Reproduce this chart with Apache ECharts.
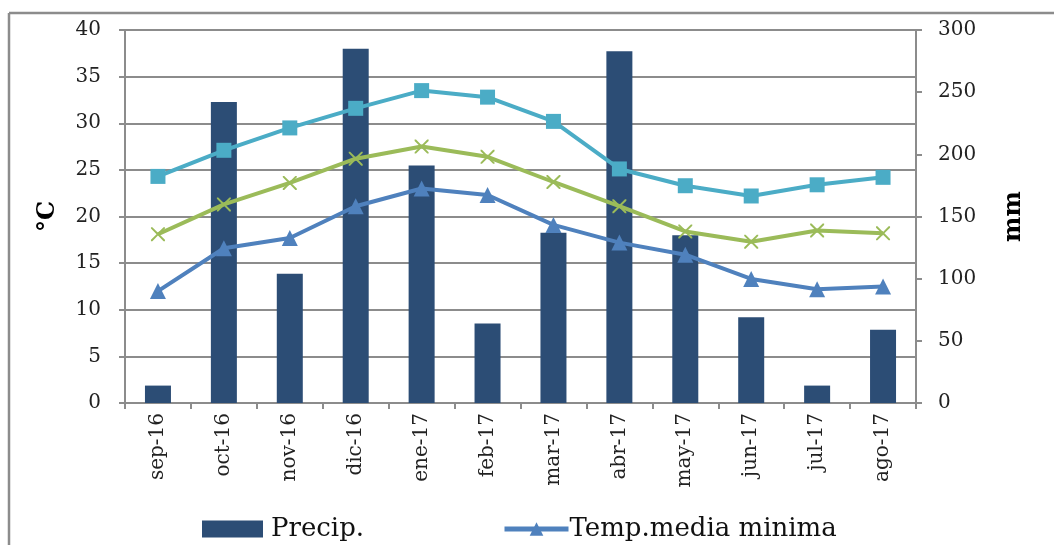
<!DOCTYPE html>
<html>
<head>
<meta charset="utf-8">
<script src="https://cdn.jsdelivr.net/npm/echarts@6/dist/echarts.min.js"></script>
<style>
  html, body { margin: 0; padding: 0; background: #fff; }
  #chart { width: 1054px; height: 545px; }
</style>
</head>
<body>
<div id="chart"></div>
<script>
// Monthly climate data, Sept 2016 – Aug 2017
const months = ['sep-16', 'oct-16', 'nov-16', 'dic-16', 'ene-17', 'feb-17',
                'mar-17', 'abr-17', 'may-17', 'jun-17', 'jul-17', 'ago-17'];

// Precipitation (mm, right axis)
const precip = [14, 242, 104, 285, 191, 64, 137, 283, 135, 69, 14, 59];

// Temperatures (°C, left axis)
const tempMax = [24.3, 27.1, 29.5, 31.6, 33.5, 32.8, 30.2, 25.1, 23.3, 22.2, 23.4, 24.2];
const tempMed = [18.1, 21.3, 23.6, 26.2, 27.5, 26.4, 23.7, 21.1, 18.4, 17.3, 18.5, 18.2];
const tempMin = [12.0, 16.6, 17.7, 21.1, 23.0, 22.3, 19.1, 17.2, 15.9, 13.3, 12.2, 12.5];

// Axis ticks
const tempTicks = { min: 0, max: 40, interval: 5 };
const mmTicks = { min: 0, max: 300, interval: 50 };

const FONT = 'DejaVu Serif';
const GRAY = '#8c8c8c';
const xMark = 'path://M0,0 L2,0 L10,8 L18,0 L20,0 L20,2 L12,10 L20,18 L20,20 L18,20 L10,12 L2,20 L0,20 L0,18 L8,10 L0,2 Z';

const chart = echarts.init(document.getElementById('chart'), null, { renderer: 'canvas' });

const axisLine = { show: true, lineStyle: { color: GRAY, width: 2 } };
const axisTick = { show: true, length: 6, lineStyle: { color: GRAY, width: 2 } };
const tickLabel = { fontFamily: FONT, fontSize: 20, color: '#222' };

chart.setOption({
  animation: false,
  backgroundColor: '#fff',
  graphic: [
    { type: 'line', shape: { x1: 9, y1: 13, x2: 1054, y2: 13 }, style: { stroke: GRAY, lineWidth: 2.5 } },
    { type: 'line', shape: { x1: 9, y1: 13, x2: 9, y2: 545 }, style: { stroke: GRAY, lineWidth: 2.5 } }
  ],
  grid: { left: 125, right: 138, top: 30, bottom: 142 },
  legend: [
    {
      data: [{ name: 'Precip.', icon: 'rect' }], left: 197, top: 511,
      itemWidth: 61, itemHeight: 17, itemGap: 0,
      textStyle: { fontFamily: FONT, fontSize: 26, color: '#111', padding: [0, 0, 0, 3] }
    },
    {
      data: ['Temp.media minima'], left: 497, top: 511,
      itemWidth: 64, itemHeight: 17, itemGap: 0,
      lineStyle: { width: 5, color: '#4F81BD' },
      textStyle: { fontFamily: FONT, fontSize: 26, color: '#111', padding: [0, 0, 0, -4] }
    }
  ],
  xAxis: {
    type: 'category',
    data: months,
    axisLine: axisLine,
    axisTick: axisTick,
    axisLabel: Object.assign({ rotate: 90, margin: 10, interval: 0 }, tickLabel)
  },
  yAxis: [
    {
      type: 'value', position: 'left',
      min: tempTicks.min, max: tempTicks.max, interval: tempTicks.interval,
      name: '°C', nameLocation: 'middle', nameGap: 65, nameRotate: 90,
      nameTextStyle: { fontFamily: FONT, fontSize: 24, fontWeight: 'bold', color: '#000' },
      axisLine: axisLine, axisTick: axisTick,
      axisLabel: Object.assign({ margin: 24 }, tickLabel),
      splitLine: { show: true, lineStyle: { color: GRAY, width: 2 } }
    },
    {
      type: 'value', position: 'right',
      min: mmTicks.min, max: mmTicks.max, interval: mmTicks.interval,
      name: 'mm', nameLocation: 'middle', nameGap: 86, nameRotate: 90,
      nameTextStyle: { fontFamily: FONT, fontSize: 24, fontWeight: 'bold', color: '#000' },
      axisLine: axisLine, axisTick: axisTick,
      axisLabel: Object.assign({ margin: 22 }, tickLabel),
      splitLine: { show: false }
    }
  ],
  series: [
    {
      name: 'Precip.', type: 'bar', yAxisIndex: 1, data: precip,
      barWidth: 26, itemStyle: { color: '#2C4D75' }
    },
    {
      name: 'Temp.media maxima', type: 'line', yAxisIndex: 0, data: tempMax,
      symbol: 'rect', symbolSize: 15,
      lineStyle: { color: '#4BACC6', width: 4 },
      itemStyle: { color: '#4BACC6' }
    },
    {
      name: 'Temp.media', type: 'line', yAxisIndex: 0, data: tempMed,
      symbol: xMark, symbolSize: 14,
      lineStyle: { color: '#9BBB59', width: 4 },
      itemStyle: { color: '#9BBB59' }
    },
    {
      name: 'Temp.media minima', type: 'line', yAxisIndex: 0, data: tempMin,
      symbol: 'triangle', symbolSize: 16,
      lineStyle: { color: '#4F81BD', width: 4 },
      itemStyle: { color: '#4F81BD' }
    }
  ]
});
</script>
</body>
</html>
